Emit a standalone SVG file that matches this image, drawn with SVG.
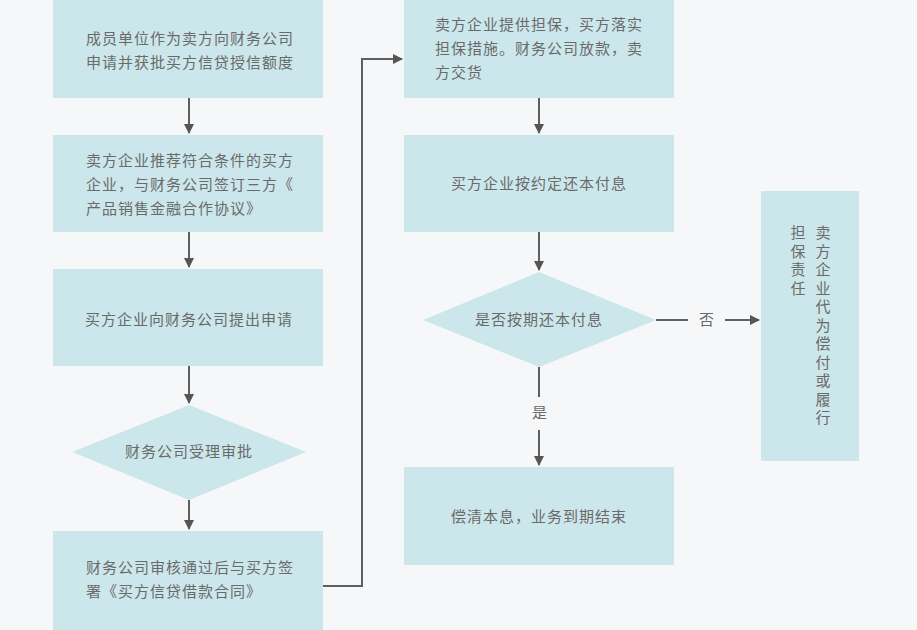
<svg xmlns="http://www.w3.org/2000/svg" width="917" height="630" viewBox="0 0 917 630">
<style>
.bx{fill:#cce7eb}
.t{font-family:"Noto Sans CJK SC","Noto Sans",sans-serif;font-size:15px;fill:#6a6a6a;letter-spacing:1px}
.c{text-anchor:middle}
.ln{stroke:#5f5f5f;stroke-width:2;fill:none}
.v{writing-mode:vertical-rl;letter-spacing:3.5px}
</style>
<defs>
<marker id="ah" viewBox="0 0 10 10" refX="9" refY="5" markerWidth="5" markerHeight="5" orient="auto" markerUnits="strokeWidth">
<path d="M0,0 L10,5 L0,10 Z" fill="#555"/>
</marker>
</defs>
<rect width="917" height="630" fill="#f6f7f9"/>
<g id="n1"><rect class="bx" x="53" y="0" width="270" height="98"/>
<text class="t" x="86" y="44">成员单位作为卖方向财务公司</text>
<text class="t" x="86" y="68">申请并获批买方信贷授信额度</text></g>
<g id="n2"><rect class="bx" x="53" y="135" width="270" height="97"/>
<text class="t" x="86" y="166">卖方企业推荐符合条件的买方</text>
<text class="t" x="86" y="190">企业，与财务公司签订三方《</text>
<text class="t" x="86" y="214">产品销售金融合作协议》</text></g>
<g id="n3"><rect class="bx" x="53" y="269" width="270" height="97"/>
<text class="t c" x="189" y="325">买方企业向财务公司提出申请</text></g>
<g id="n4"><polygon class="bx" points="189,405 306,452 189,500 72,452"/>
<text class="t c" x="189" y="457">财务公司受理审批</text></g>
<g id="n5"><rect class="bx" x="53" y="531" width="270" height="99"/>
<text class="t" x="86" y="573">财务公司审核通过后与买方签</text>
<text class="t" x="86" y="597">署《买方信贷借款合同》</text></g>
<g id="n6"><rect class="bx" x="404" y="0" width="270" height="98"/>
<text class="t" x="435" y="30">卖方企业提供担保，买方落实</text>
<text class="t" x="435" y="54">担保措施。财务公司放款，卖</text>
<text class="t" x="435" y="78">方交货</text></g>
<g id="n7"><rect class="bx" x="404" y="135" width="270" height="97"/>
<text class="t c" x="539" y="189">买方企业按约定还本付息</text></g>
<g id="n8"><polygon class="bx" points="539,272 656,320 539,367 423,320"/>
<text class="t c" x="539" y="325">是否按期还本付息</text></g>
<g id="n9"><rect class="bx" x="404" y="467" width="270" height="98"/>
<text class="t c" x="539" y="522">偿清本息，业务到期结束</text></g>
<g id="n10"><rect class="bx" x="761" y="191" width="98" height="270"/>
<text class="t v" x="823" y="225">卖方企业代为偿付或履行</text>
<text class="t v" x="798" y="225">担保责任</text></g>
<g id="connectors">
<line class="ln" x1="189" y1="98" x2="189" y2="133" marker-end="url(#ah)"/>
<line class="ln" x1="189" y1="232" x2="189" y2="267" marker-end="url(#ah)"/>
<line class="ln" x1="189" y1="366" x2="189" y2="403" marker-end="url(#ah)"/>
<line class="ln" x1="189" y1="500" x2="189" y2="529" marker-end="url(#ah)"/>
<polyline class="ln" points="323,586 362,586 362,59 402,59" marker-end="url(#ah)"/>
<line class="ln" x1="539" y1="98" x2="539" y2="133" marker-end="url(#ah)"/>
<line class="ln" x1="539" y1="232" x2="539" y2="270" marker-end="url(#ah)"/>
<line class="ln" x1="539" y1="367" x2="539" y2="397"/>
<line class="ln" x1="539" y1="430" x2="539" y2="465" marker-end="url(#ah)"/>
<text class="t c" x="540" y="418">是</text>
<line class="ln" x1="656" y1="320" x2="688" y2="320"/>
<line class="ln" x1="725" y1="320" x2="759" y2="320" marker-end="url(#ah)"/>
<text class="t c" x="707" y="325">否</text>
</g>
</svg>
